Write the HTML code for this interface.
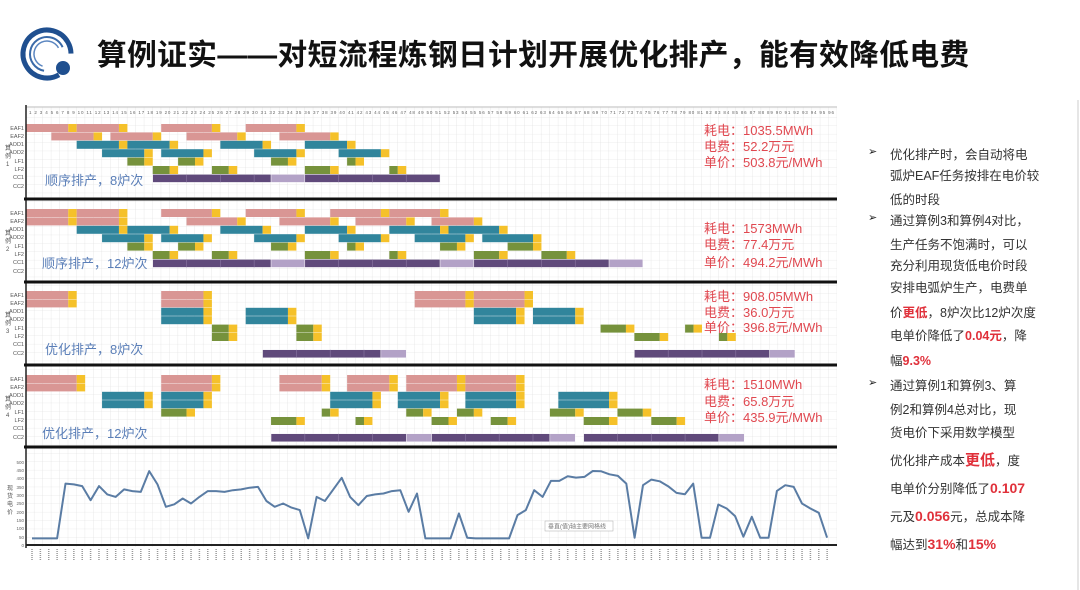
<!DOCTYPE html>
<html><head><meta charset="utf-8"><style>
body{margin:0;width:1080px;height:590px;background:#fff;overflow:hidden;position:relative;font-family:"Liberation Sans","Noto Sans CJK SC",sans-serif}
.t{position:absolute;left:97px;top:31px;font-size:29.7px;font-weight:bold;color:#111;letter-spacing:0.4px;white-space:nowrap}
.r{position:absolute;left:890px;font-size:12.5px;color:#333;white-space:nowrap}
.b{position:absolute;left:868px;font-size:11px;color:#222}
.red{color:#e0303a;font-weight:bold}
</style></head><body>
<svg style="position:absolute;left:0;top:0" width="1080" height="590">
<circle cx="47" cy="54" r="24" fill="none" stroke="#1f4f8f" stroke-width="5" stroke-dasharray="125 30" transform="rotate(60 47 54)"/>
<circle cx="47" cy="54" r="17" fill="none" stroke="#3a6aa8" stroke-width="2" stroke-dasharray="70 40" transform="rotate(100 47 54)"/>
<circle cx="47" cy="54" r="13" fill="none" stroke="#5b86c0" stroke-width="1.5" stroke-dasharray="50 40" transform="rotate(110 47 54)"/>
<circle cx="63" cy="68" r="7" fill="#1f4f8f"/>
<line x1="1078" y1="100" x2="1078" y2="590" stroke="#ccc"/>
</svg>
<div class="t">算例证实——对短流程炼钢日计划开展优化排产，能有效降低电费</div>
<svg id="c" style="position:absolute;left:0;top:0" width="860" height="590">
<defs>
<pattern id="g" x="26" y="0" width="8.45" height="8.4" patternUnits="userSpaceOnUse"><path d="M8.45 0V8.4M0 8.4H8.45" stroke="#dcdcdc" stroke-width="0.6" fill="none"/></pattern>
</defs>
<rect x="26" y="107" width="811" height="440" fill="url(#g)"/>
<line x1="26" y1="107" x2="837" y2="107" stroke="#bbb"/>
<text x="29" y="114" font-size="4.5" fill="#666" textLength="805">1 2 3 4 5 6 7 8 9 10 11 12 13 14 15 16 17 18 19 20 21 22 23 24 25 26 27 28 29 30 31 32 33 34 35 36 37 38 39 40 41 42 43 44 45 46 47 48 49 50 51 52 53 54 55 56 57 58 59 60 61 62 63 64 65 66 67 68 69 70 71 72 73 74 75 76 77 78 79 80 81 82 83 84 85 86 87 88 89 90 91 92 93 94 95 96</text>
<g id="bars"></g>
<line x1="26" y1="105" x2="26" y2="548" stroke="#222" stroke-width="1.5"/>
<g stroke="#111" stroke-width="3"><line x1="24" y1="199" x2="837" y2="199"/><line x1="24" y1="282" x2="837" y2="282"/><line x1="24" y1="365" x2="837" y2="365"/><line x1="24" y1="447" x2="837" y2="447"/></g>
<line x1="26" y1="545" x2="837" y2="545" stroke="#222" stroke-width="2"/>
<g font-size="5.5" fill="#555" text-anchor="end">
<text x="24" y="130">EAF1</text><text x="24" y="138">EAF2</text><text x="24" y="146">AOD1</text><text x="24" y="154">AOD2</text><text x="24" y="163">LF1</text><text x="24" y="171">LF2</text><text x="24" y="179">CC1</text><text x="24" y="188">CC2</text>
<text x="24" y="215">EAF1</text><text x="24" y="223">EAF2</text><text x="24" y="231">AOD1</text><text x="24" y="239">AOD2</text><text x="24" y="248">LF1</text><text x="24" y="256">LF2</text><text x="24" y="264">CC1</text><text x="24" y="273">CC2</text>
<text x="24" y="297">EAF1</text><text x="24" y="305">EAF2</text><text x="24" y="313">AOD1</text><text x="24" y="321">AOD2</text><text x="24" y="330">LF1</text><text x="24" y="338">LF2</text><text x="24" y="346">CC1</text><text x="24" y="355">CC2</text>
<text x="24" y="381">EAF1</text><text x="24" y="389">EAF2</text><text x="24" y="397">AOD1</text><text x="24" y="405">AOD2</text><text x="24" y="414">LF1</text><text x="24" y="422">LF2</text><text x="24" y="430">CC1</text><text x="24" y="439">CC2</text>
</g>
<g font-size="6" fill="#555"><text x="5" y="150">算</text><text x="5" y="158">例</text><text x="6" y="166">1</text>
<text x="5" y="235">算</text><text x="5" y="243">例</text><text x="6" y="251">2</text>
<text x="5" y="317">算</text><text x="5" y="325">例</text><text x="6" y="333">3</text>
<text x="5" y="401">算</text><text x="5" y="409">例</text><text x="6" y="417">4</text>
<text x="7" y="490">现</text><text x="7" y="498">货</text><text x="7" y="506">电</text><text x="7" y="514">价</text></g>
<g font-size="13" fill="#5b7fb8"><text x="45" y="185">顺序排产，8炉次</text><text x="42" y="268">顺序排产，12炉次</text><text x="45" y="354">优化排产，8炉次</text><text x="42" y="438">优化排产，12炉次</text></g>
<g font-size="13" fill="#e04850">
<text x="704" y="135">耗电：1035.5MWh</text><text x="704" y="151">电费：52.2万元</text><text x="704" y="167">单价：503.8元/MWh</text>
<text x="704" y="233">耗电：1573MWh</text><text x="704" y="249">电费：77.4万元</text><text x="704" y="267">单价：494.2元/MWh</text>
<text x="704" y="301">耗电：908.05MWh</text><text x="704" y="317">电费：36.0万元</text><text x="704" y="332">单价：396.8元/MWh</text>
<text x="704" y="389">耗电：1510MWh</text><text x="704" y="406">电费：65.8万元</text><text x="704" y="422">单价：435.9元/MWh</text>
</g>
<g font-size="4.5" fill="#666" text-anchor="end">
<text x="24" y="547">0</text><text x="24" y="539">50</text><text x="24" y="530">100</text><text x="24" y="522">150</text><text x="24" y="514">200</text><text x="24" y="505">250</text><text x="24" y="497">300</text><text x="24" y="489">350</text><text x="24" y="480">400</text><text x="24" y="472">450</text><text x="24" y="464">500</text></g>
<g id="xl" stroke="#999" stroke-width="1.5"></g>
<polyline id="pl" fill="none" stroke="#5a7ca4" stroke-width="2" stroke-linejoin="round"/>
<rect x="545" y="521" width="68" height="10" fill="#fff" stroke="#aaa" stroke-width="0.5"/>
<text x="548" y="528.5" font-size="6" fill="#777">垂直(值)轴主要网格线</text>
</svg>
<div class="b" style="top:145px">➢</div>
<div class="r" style="top:144px">优化排产时，会自动将电</div>
<div class="r" style="top:165px">弧炉EAF任务按排在电价较</div>
<div class="r" style="top:189px">低的时段</div>
<div class="b" style="top:211px">➢</div>
<div class="r" style="top:210px">通过算例3和算例4对比，</div>
<div class="r" style="top:234px">生产任务不饱满时，可以</div>
<div class="r" style="top:255px">充分利用现货低电价时段</div>
<div class="r" style="top:277px">安排电弧炉生产，电费单</div>
<div class="r" style="top:302px">价<span class="red">更低</span>，8炉次比12炉次度</div>
<div class="r" style="top:325px">电单价降低了<span class="red">0.04元</span>，降</div>
<div class="r" style="top:350px">幅<span class="red">9.3%</span></div>
<div class="b" style="top:376px">➢</div>
<div class="r" style="top:375px">通过算例1和算例3、算</div>
<div class="r" style="top:399px">例2和算例4总对比，现</div>
<div class="r" style="top:422px">货电价下采用数学模型</div>
<div class="r" style="top:449px">优化排产成本<span class="red" style="font-size:15px">更低</span>，度</div>
<div class="r" style="top:478px">电单价分别降低了<span class="red" style="font-size:14px">0.107</span></div>
<div class="r" style="top:506px">元及<span class="red" style="font-size:14px">0.056</span>元，总成本降</div>
<div class="r" style="top:534px">幅达到<span class="red" style="font-size:14px">31%</span>和<span class="red" style="font-size:14px">15%</span></div>
<script>
var C={p:"#d99694",y:"#f5c12a",t:"#31859c",g:"#76923c",u:"#604a7b",l:"#b3a2c7"};
var base=[124,209,291,375];
var S=[
["p0-5,y5-6,p6-11,y11-12,p16-22,y22-23,p26-32,y32-33","p3-8,y8-9,p10-15,y15-16,p19-25,y25-26,p30-36,y36-37","t6-11,y11-12,t12-17,y17-18,t23-28,y28-29,t33-38,y38-39","t9-14,y14-15,t16-21,y21-22,t27-32,y32-33,t37-42,y42-43","g12-14,y14-15,g18-20,y20-21,g29-31,y31-32,g38-39,y39-40","g15-17,y17-18,g22-24,y24-25,g33-36,y36-37,g43-44,y44-45","u15-29,l29-33,u33-49",""],
["p0-5,y5-6,p6-11,y11-12,p16-22,y22-23,p26-32,y32-33,p36-42,y42-43,p43-49,y49-50","p0-5,y5-6,p6-11,y11-12,p19-25,y25-26,p30-36,y36-37,p39-45,y45-46,p48-53,y53-54","t6-11,y11-12,t12-17,y17-18,t23-28,y28-29,t33-38,y38-39,t43-49,y49-50,t50-56,y56-57","t9-14,y14-15,t16-21,y21-22,t27-32,y32-33,t37-42,y42-43,t46-52,y52-53,t54-60,y60-61","g12-14,y14-15,g18-20,y20-21,g29-31,y31-32,g38-39,y39-40,g49-51,y51-52,g57-60,y60-61","g15-17,y17-18,g22-24,y24-25,g33-36,y36-37,g43-44,y44-45,g53-56,y56-57,g61-64,y64-65","u15-29,l29-33,u33-49,l49-53,u53-69,l69-73",""],
["p0-5,y5-6,p16-21,y21-22,p46-52,y52-53,p53-59,y59-60","p0-5,y5-6,p16-21,y21-22,p46-52,y52-53,p53-59,y59-60","t16-21,y21-22,t26-31,y31-32,t53-58,y58-59,t60-65,y65-66","t16-21,y21-22,t26-31,y31-32,t53-58,y58-59,t60-65,y65-66","g22-24,y24-25,g32-34,y34-35,g68-71,y71-72,g78-79,y79-80","g22-24,y24-25,g32-34,y34-35,g72-75,y75-76,g82-83,y83-84","","u28-42,l42-45,u72-88,l88-91"],
["p0-6,y6-7,p16-22,y22-23,p30-35,y35-36,p38-43,y43-44,p45-51,y51-52,p52-58,y58-59","p0-6,y6-7,p16-22,y22-23,p30-35,y35-36,p38-43,y43-44,p45-51,y51-52,p52-58,y58-59","t9-14,y14-15,t16-21,y21-22,t36-41,y41-42,t44-49,y49-50,t52-58,y58-59,t63-69,y69-70","t9-14,y14-15,t16-21,y21-22,t36-41,y41-42,t44-49,y49-50,t52-58,y58-59,t63-69,y69-70","g16-19,y19-20,g35-36,y36-37,g45-47,y47-48,g51-53,y53-54,g62-65,y65-66,g70-73,y73-74","g29-32,y32-33,g39-40,y40-41,g48-50,y50-51,g55-57,y57-58,g66-69,y69-70,g74-77,y77-78","","u29-45,l45-48,u48-62,l62-65,u66-82,l82-85"]];
var ns="http://www.w3.org/2000/svg",G=document.getElementById("bars"),u=8.45,x0=26;
S.forEach(function(sec,si){sec.forEach(function(row,ri){if(!row)return;row.split(",").forEach(function(s){var c=s[0],a=s.slice(1).split("-"),st=+a[0],en=+a[1];var r=document.createElementNS(ns,"rect");r.setAttribute("x",x0+st*u);r.setAttribute("y",base[si]+ri*8.4);r.setAttribute("width",(en-st)*u);r.setAttribute("height",8);r.setAttribute("fill",C[c]);if(c=="u"||c=="l"){r.setAttribute("stroke","#fff");r.setAttribute("stroke-width","0.4");}G.appendChild(r);if(c=="u"){for(var k=st+4;k<en;k+=4){var l=document.createElementNS(ns,"line");l.setAttribute("x1",x0+k*u);l.setAttribute("x2",x0+k*u);l.setAttribute("y1",base[si]+ri*8.4);l.setAttribute("y2",base[si]+ri*8.4+8);l.setAttribute("stroke","#8a77a3");l.setAttribute("stroke-width","0.6");G.appendChild(l);}}});});});
var v=[40,40,40,40,370,365,355,270,355,305,290,335,325,320,445,365,230,245,280,250,290,325,325,320,330,335,345,350,265,230,250,225,210,40,290,265,335,405,290,240,295,305,310,325,330,200,310,40,40,40,40,190,44,40,40,40,40,40,180,210,330,290,386,386,414,406,410,446,444,426,416,370,44,360,394,384,354,314,306,370,44,44,244,220,174,50,170,44,44,326,360,350,250,220,194,44];
document.getElementById("pl").setAttribute("points",v.map(function(y,i){return (32+i*8.37).toFixed(1)+","+(545-y*83/500).toFixed(1)}).join(" "));
var X=document.getElementById("xl");for(var i=0;i<96;i++){var l=document.createElementNS(ns,"line");var xx=32+i*8.37;l.setAttribute("x1",xx);l.setAttribute("x2",xx);l.setAttribute("y1",549);l.setAttribute("y2",560);l.setAttribute("stroke-dasharray","1 1");X.appendChild(l);}
</script>
</body></html>
